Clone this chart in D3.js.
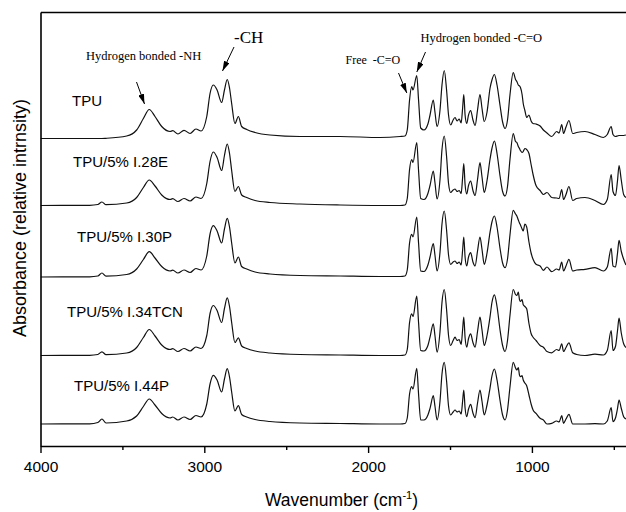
<!DOCTYPE html>
<html>
<head>
<meta charset="utf-8">
<script src="https://cdn.jsdelivr.net/npm/d3@7"></script>
<style>
  body { margin: 0; background: #fff; }
  svg { display: block; }
  .sans { font-family: "Liberation Sans", Arial, sans-serif; }
  .serif { font-family: "Liberation Serif", "Times New Roman", serif; }
</style>
</head>
<body>
<svg id="chart" width="626" height="512"></svg>
<script>
// wavenumber grid (cm-1) shared by all five spectra
const wavenumbers = [
  4000, 3700, 3650, 3625, 3600, 3474, 3413, 3372, 3336, 3301, 3260, 3209, 3193, 3161, 3124, 3087,
  3051, 3020, 2985, 2965, 2945, 2922, 2894, 2877, 2860, 2846, 2833, 2813, 2792, 2772, 2741, 2690,
  2599, 2416, 2171, 1927, 1805, 1775, 1761, 1747, 1734, 1726, 1703, 1692, 1679, 1659, 1635, 1622,
  1602, 1592, 1579, 1561, 1549, 1535, 1521, 1509, 1496, 1481, 1469, 1457, 1444, 1432, 1423, 1416,
  1408, 1398, 1387, 1374, 1360, 1347, 1332, 1317, 1305, 1291, 1274, 1256, 1244, 1229, 1213, 1195,
  1179, 1164, 1149, 1134, 1114, 1100, 1092, 1083, 1076, 1070, 1060, 1053, 1043, 1032, 1018, 1005,
  993, 975, 950, 930, 908, 879, 849, 834, 818, 807, 792, 774, 751, 727, 676, 615,
  564, 540, 516, 505, 490, 478, 468, 455, 440, 426
];

// absorbance above each trace's own baseline (arbitrary units)
const tpu = [
  0, 0, 0, 0, 0.02, 0.25, 0.85, 2.0, 2.9, 2.2, 1.2, 0.7, 0.78, 0.45, 0.82, 0.5,
  0.95, 0.75, 2.2, 4.5, 5.35, 4.85, 3.6, 4.85, 5.9, 5.05, 3.5, 1.5, 2.2, 1.2, 0.9, 0.6,
  0.35, 0.2, 0.2, 0.1, 0.2, 0.25, 0.85, 3.85, 5.2, 4.85, 6.3, 3.85, 1.05, 0.85, 1.45, 2.35,
  3.85, 2.65, 1.2, 2.85, 5.35, 6.8, 4.85, 2.35, 1.35, 1.85, 2.1, 1.75, 1.95, 1.55, 3.05, 4.4,
  2.35, 1.5, 2.35, 2.8, 1.85, 1.3, 2.85, 4.4, 3.05, 1.7, 2.65, 5.0, 5.85, 6.4, 5.35, 3.35,
  1.65, 1.0, 1.85, 4.35, 6.6, 5.9, 5.7, 5.35, 5.25, 5.1, 4.4, 3.5, 2.8, 2.1, 2.35, 1.75,
  1.5, 1.45, 1.25, 0.85, 0.55, 0.2, 0.7, 0.55, 1.4, 0.5, 1.15, 1.8, 0.5, 0.6, 0.7, 0.4,
  0.1, 0.4, 1.2, 0.4, 0.2, 0.25, 0.3, 0.3, 0.3, 0.35
];
const i28e = [
  0, 0.02, 0.1, 0.35, 0.08, 0.25, 0.8, 1.8, 2.55, 1.95, 1.05, 0.6, 0.68, 0.4, 0.7, 0.45,
  0.85, 0.7, 2.2, 4.4, 5.35, 4.8, 3.5, 5.0, 6.15, 5.2, 3.5, 1.4, 1.9, 1.05, 0.8, 0.5,
  0.3, 0.15, 0.05, 0, 0, 0.05, 0.7, 3.6, 4.6, 4.3, 6.3, 3.5, 0.7, 0.6, 1.2, 2.0,
  3.45, 2.3, 0.65, 2.6, 5.6, 6.95, 4.9, 2.2, 1.3, 1.55, 1.65, 1.4, 1.5, 1.2, 2.8, 4.2,
  2.1, 1.15, 2.0, 2.45, 1.5, 1.0, 2.6, 4.3, 2.9, 1.3, 2.5, 4.6, 5.7, 6.45, 5.2, 3.0,
  1.4, 0.95, 1.9, 4.6, 7.2, 6.4, 6.3, 5.9, 5.7, 5.5, 5.3, 5.4, 5.7, 5.6, 5.2, 4.1,
  3.1, 2.0, 1.5, 1.1, 1.3, 0.8, 0.75, 0.7, 1.6, 0.6, 1.1, 1.9, 0.5, 0.7, 0.8, 0.5,
  0.1, 0.6, 3.1, 1.4, 1.0, 2.4, 4.0, 2.6, 1.1, 0.8
];
const i30p = [
  0, 0.02, 0.1, 0.4, 0.08, 0.25, 0.8, 1.75, 2.53, 1.9, 1.05, 0.6, 0.68, 0.4, 0.7, 0.45,
  0.85, 0.7, 2.1, 4.3, 5.13, 4.6, 3.4, 4.8, 5.87, 5.0, 3.4, 1.4, 2.0, 1.05, 0.8, 0.5,
  0.3, 0.15, 0.1, 0.05, 0.05, 0.1, 0.7, 3.4, 4.27, 4.0, 6.0, 3.4, 0.6, 0.55, 1.2, 2.0,
  3.33, 2.2, 0.6, 2.5, 5.3, 6.6, 4.7, 2.2, 1.27, 1.5, 1.6, 1.35, 1.5, 1.2, 2.7, 4.0,
  2.0, 1.1, 2.0, 2.43, 1.5, 1.1, 2.6, 4.0, 2.8, 1.27, 2.4, 4.43, 5.5, 6.1, 5.0, 2.9,
  1.4, 0.93, 1.8, 4.2, 6.67, 6.3, 6.1, 5.7, 5.4, 5.2, 4.8, 4.6, 5.3, 5.0, 3.5, 2.4,
  1.77, 1.27, 1.1, 0.67, 1.0, 0.53, 0.8, 0.7, 1.5, 0.6, 1.1, 1.77, 0.6, 0.7, 0.77, 0.93,
  0.6, 1.0, 2.87, 1.1, 1.0, 2.3, 3.67, 2.6, 1.77, 1.2
];
const i34tcn = [
  0, 0.02, 0.1, 0.37, 0.08, 0.25, 0.8, 1.8, 2.6, 1.95, 1.05, 0.6, 0.68, 0.4, 0.7, 0.45,
  0.85, 0.7, 2.0, 4.2, 5.0, 4.5, 3.3, 4.7, 5.77, 4.9, 3.3, 1.3, 1.77, 0.95, 0.7, 0.45,
  0.25, 0.1, 0.05, 0, 0, 0.05, 0.6, 3.3, 4.17, 3.9, 5.93, 3.3, 0.5, 0.45, 1.0, 1.83,
  3.17, 2.0, 0.33, 2.4, 5.3, 6.6, 4.6, 2.0, 1.0, 1.5, 1.83, 1.5, 1.6, 1.1, 2.6, 3.83,
  1.8, 0.83, 1.7, 2.17, 1.3, 0.83, 2.4, 3.83, 2.6, 1.0, 2.0, 3.83, 5.3, 6.07, 4.9, 2.6,
  1.0, 0.4, 1.5, 4.0, 6.6, 6.1, 6.0, 6.33, 5.6, 5.4, 5.6, 5.07, 4.9, 4.67, 3.2, 2.2,
  1.83, 1.5, 1.0, 0.83, 0.4, 0.27, 0.6, 0.5, 1.17, 0.4, 0.8, 1.27, 0.27, 0.1, 0, 0.13,
  0.05, 0.5, 2.5, 0.5, 0.9, 2.4, 3.73, 2.3, 1.17, 0.8
];
const i44p = [
  0, 0.02, 0.15, 0.5, 0.1, 0.3, 0.8, 1.75, 2.5, 1.9, 1.05, 0.6, 0.7, 0.4, 0.7, 0.45,
  0.85, 0.7, 2.0, 4.0, 4.87, 4.4, 3.2, 4.5, 5.53, 4.7, 3.2, 1.3, 1.83, 0.95, 0.7, 0.45,
  0.25, 0.1, 0.05, 0, 0, 0.05, 0.6, 3.0, 3.73, 3.5, 5.57, 3.0, 0.4, 0.4, 0.9, 1.57,
  2.83, 1.8, 0.4, 2.3, 5.0, 6.17, 4.3, 1.8, 0.9, 1.2, 1.4, 1.2, 1.3, 1.0, 2.3, 3.4,
  1.6, 0.73, 1.5, 1.97, 1.1, 0.63, 2.1, 3.4, 2.3, 0.9, 1.9, 3.57, 4.8, 5.5, 4.4, 2.4,
  0.9, 0.4, 1.4, 3.7, 6.17, 5.6, 5.4, 5.63, 4.9, 4.73, 4.83, 4.4, 4.1, 3.83, 2.9, 2.0,
  1.4, 1.07, 0.57, 0.4, 0, 0.07, 0.3, 0.2, 0.83, 0.07, 0.5, 0.97, 0, 0, 0, 0.03,
  0, 0.3, 1.63, 0.23, 0.6, 1.5, 2.4, 1.6, 0.73, 0.5
];

const samples = ['TPU', 'TPU/5% I.28E', 'TPU/5% I.30P', 'TPU/5% I.34TCN', 'TPU/5% I.44P'];
const spectra = [tpu, i28e, i30p, i34tcn, i44p];
const offsets = [30.75, 24.05, 16.9, 9.05, 2.2];   // vertical stacking of the traces

const majorTicks = [4000, 3000, 2000, 1000];
const minorTicks = [3500, 2500, 1500, 500];

const annotations = [
  { text: 'Hydrogen bonded -NH', at: 3336 },
  { text: '-CH', at: 2860 },
  { text: 'Free  -C=O', at: 1734 },
  { text: 'Hydrogen bonded -C=O', at: 1703 }
];

const svg = d3.select('#chart');
const margin = { left: 40.5, top: 12, bottom: 446, right: 630.2 };

const x = d3.scaleLinear().domain([4000, 400]).range([margin.left, margin.right]);
const y = d3.scaleLinear().domain([0, 43.4]).range([margin.bottom, margin.top]);

svg.append('defs').append('clipPath').attr('id', 'plot')
  .append('rect')
  .attr('x', margin.left).attr('y', margin.top)
  .attr('width', margin.right - margin.left).attr('height', margin.bottom - margin.top);

svg.select('defs').append('marker')
  .attr('id', 'head')
  .attr('viewBox', '0 0 10 6')
  .attr('refX', 10).attr('refY', 3)
  .attr('markerWidth', 10).attr('markerHeight', 6)
  .attr('markerUnits', 'userSpaceOnUse')
  .attr('orient', 'auto')
  .append('path').attr('d', 'M0,0 L10,3 L0,6 Z').attr('fill', '#000');

// spectra
const traces = svg.append('g').attr('clip-path', 'url(#plot)');
spectra.forEach((vals, k) => {
  const line = d3.line()
    .x((d, i) => x(wavenumbers[i]))
    .y(d => y(offsets[k] + d))
    .curve(d3.curveMonotoneX);
  traces.append('path')
    .datum(vals)
    .attr('d', line)
    .attr('fill', 'none')
    .attr('stroke', '#111')
    .attr('stroke-width', 1.2)
    .attr('stroke-linejoin', 'round');
});

// frame
svg.append('g')
  .attr('transform', `translate(0,${margin.top})`)
  .call(d3.axisTop(x).tickValues([]).tickSizeOuter(0))
  .select('.domain').attr('stroke-width', 1.6);
svg.append('g')
  .attr('transform', `translate(${margin.left},0)`)
  .call(d3.axisLeft(y).tickValues([]).tickSizeOuter(0))
  .select('.domain').attr('stroke-width', 1.6);

// bottom axis
const xAxis = svg.append('g')
  .attr('transform', `translate(0,${margin.bottom})`)
  .call(d3.axisBottom(x).tickValues(majorTicks).tickSize(7).tickSizeOuter(0).tickPadding(8)
    .tickFormat(d3.format('d')));
xAxis.select('.domain').attr('stroke-width', 1.6);
xAxis.selectAll('.tick line').attr('stroke-width', 1.4);
xAxis.selectAll('.tick text')
  .attr('class', 'sans')
  .attr('font-size', 15.5)
  .attr('fill', '#000');

svg.append('g')
  .attr('transform', `translate(0,${margin.bottom})`)
  .call(d3.axisBottom(x).tickValues(minorTicks).tickSize(4).tickFormat(''))
  .call(g => g.select('.domain').remove())
  .selectAll('.tick line').attr('stroke-width', 1.4);

// axis titles
const xt = svg.append('text').attr('class', 'sans')
  .attr('x', 265).attr('y', 506).attr('font-size', 17.5).attr('fill', '#000');
xt.append('tspan').text('Wavenumber (cm');
xt.append('tspan').attr('dy', -7).attr('font-size', 11).text('-1');
xt.append('tspan').attr('dy', 7).text(')');

svg.append('text').attr('class', 'sans')
  .attr('transform', 'translate(26,218) rotate(-90)')
  .attr('text-anchor', 'middle')
  .attr('font-size', 18)
  .attr('fill', '#000')
  .text('Absorbance (relative intrnsity)');

// trace labels
const labelPos = [[72, 106], [73, 167], [77, 241.5], [67, 316.5], [74, 390.5]];
svg.append('g').selectAll('text')
  .data(samples)
  .join('text')
  .attr('class', 'sans')
  .attr('x', (d, i) => labelPos[i][0])
  .attr('y', (d, i) => labelPos[i][1])
  .attr('font-size', 15)
  .attr('fill', '#000')
  .text(d => d);

// peak annotations
const notePos = [
  { tx: 86, ty: 59.5, size: 12.5, from: [136.5, 82], to: [144.5, 104] },
  { tx: 234, ty: 42.5, size: 17, from: [234, 47], to: [222.5, 71] },
  { tx: 345.5, ty: 64, size: 12, from: [398.5, 73], to: [406.8, 93] },
  { tx: 420.5, ty: 41.5, size: 12.5, from: [425.5, 52], to: [416.8, 72] }
];
annotations.forEach((a, i) => {
  const p = notePos[i];
  svg.append('text').attr('class', 'serif')
    .attr('x', p.tx).attr('y', p.ty)
    .attr('font-size', p.size)
    .attr('fill', '#000')
    .style('white-space', 'pre')
    .text(a.text);
  svg.append('line')
    .attr('x1', p.from[0]).attr('y1', p.from[1])
    .attr('x2', p.to[0]).attr('y2', p.to[1])
    .attr('stroke', '#000').attr('stroke-width', 1)
    .attr('marker-end', 'url(#head)');
});
</script>
</body>
</html>
